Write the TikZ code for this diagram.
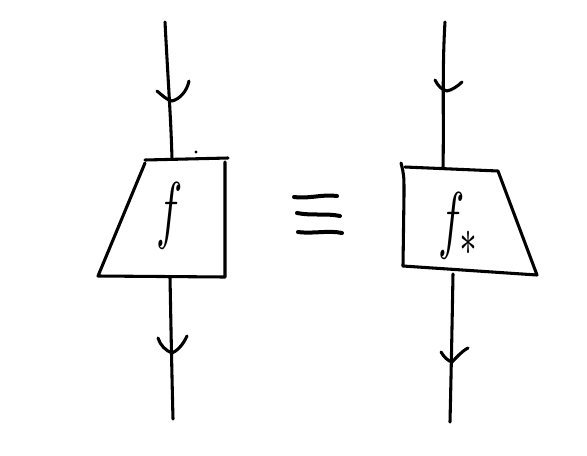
\documentclass[tikz,border=0pt]{standalone}
\begin{document}
\begin{tikzpicture}[x=0.75pt,y=-0.75pt,line cap=round,line join=round,
  stroke/.style={line width=2.3pt},
  eqstroke/.style={line width=3pt},
  arm/.style={line width=2.3pt},
  lab/.style={inner sep=0pt}]
\useasboundingbox (0,0) rectangle (587,455);
% ---------- left diagram ----------
\coordinate (LA) at (165,22);
\coordinate (LB) at (172,159);
\coordinate (LC) at (170,277);
\coordinate (LD) at (173,419);
\coordinate (LT1) at (172,101);
\coordinate (LT2) at (172,353);
\draw[stroke] (LA) .. controls (168,80) and (171,120) .. (LB);
\draw[stroke] (LC) .. controls (171,330) and (172,380) .. (LD);
\draw[stroke] (145,160) -- (228,158);
\draw[stroke] (225,162) -- (225,277) -- (98,276) -- (145,163);
\fill (196,152) circle (1.6);
\node[lab] (fl) at (170,216) {\scalebox{3.3}[5.6]{$f$}};
\draw[arm] (157,91) .. controls (163,96) and (167,100) .. (LT1);
\draw[arm] (189,81) .. controls (187,91) and (180,99) .. (LT1);
\draw[arm] (158,338) .. controls (160,345) and (166,351) .. (LT2);
\draw[arm] (187,336) .. controls (183,345) and (177,351) .. (LT2);
% ---------- equivalence ----------
\draw[eqstroke] (294,197) .. controls (310,199) and (322,194) .. (337,196);
\draw[eqstroke] (297,213) .. controls (312,216) and (326,213) .. (340,216);
\draw[eqstroke] (298,232) .. controls (314,234) and (328,230) .. (342,233);
% ---------- right diagram ----------
\coordinate (RA) at (445,22);
\coordinate (RB) at (443,168);
\coordinate (RC) at (453,274);
\coordinate (RD) at (450,422);
\coordinate (RT1) at (447,91);
\coordinate (RT2) at (452,362);
\draw[stroke] (RA) .. controls (442,70) and (444,120) .. (RB);
\draw[stroke] (RC) .. controls (452,330) and (451,380) .. (RD);
\draw[stroke] (405,167) -- (498,171) -- (537,275) -- (403,266);
\draw[stroke] (401,163) .. controls (404,175) .. (404,195) -- (403,266);
\node[lab,anchor=west] (fr) at (438,226) {\scalebox{3.3}[5.6]{$f_{\ast}$}};
\draw[arm] (435,80) .. controls (438,86) and (442,90) .. (RT1);
\draw[arm] (462,82) .. controls (458,86) and (452,90) .. (RT1);
\draw[arm] (441,352) .. controls (444,357) and (448,361) .. (RT2);
\draw[arm] (468,348) .. controls (462,351) and (456,358) .. (RT2);
\end{tikzpicture}
\end{document}
